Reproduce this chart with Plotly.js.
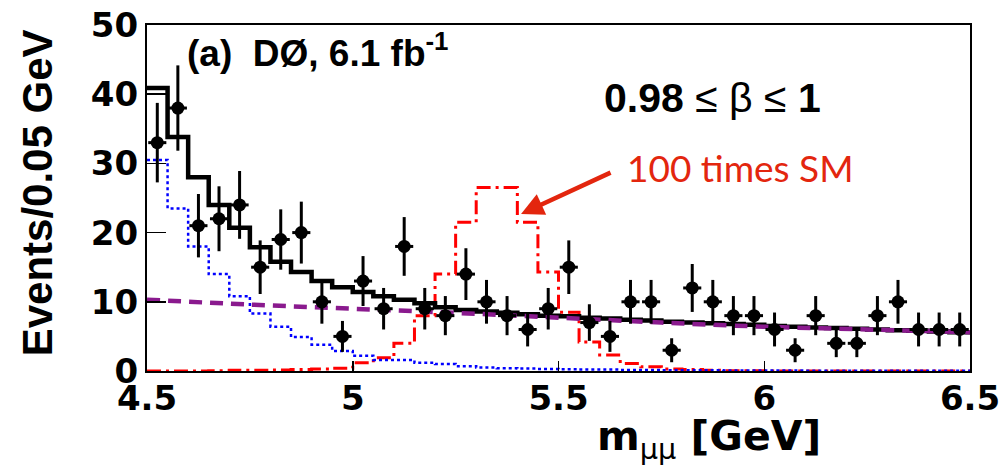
<!DOCTYPE html>
<html>
<head>
<meta charset="utf-8">
<script src="https://cdn.plot.ly/plotly-3.0.1.min.js"></script>
<style>html,body{margin:0;padding:0;background:#fff;}#chart{width:1003px;height:466px;}</style>
</head>
<body>
<div id="chart"></div>
<script>
// bin centres of m_mumu [GeV], bin width 0.05
const binCenters = [4.525,4.575,4.625,4.675,4.725,4.775,4.825,4.875,4.925,4.975,
  5.025,5.075,5.125,5.175,5.225,5.275,5.325,5.375,5.425,5.475,
  5.525,5.575,5.625,5.675,5.725,5.775,5.825,5.875,5.925,5.975,
  6.025,6.075,6.125,6.175,6.225,6.275,6.325,6.375,6.425,6.475];
const binHalfWidth = 0.025;
// observed data
const dataCounts = [33,38,21,22,24,15,19,20,10,5,13,9,18,9,8,14,10,8,6,9,
  15,7,5,10,10,3,12,10,8,8,6,3,8,4,4,8,10,6,6,6];
// total background (black histogram)
const totalBkg = [40.9,33.8,28.0,24.0,20.7,17.9,15.8,14.3,13.0,12.1,
  11.4,10.8,10.3,9.8,9.2,8.8,8.6,8.4,8.2,8.0,
  7.9,7.7,7.6,7.4,7.3,7.1,7.0,6.9,6.8,6.7,
  6.5,6.4,6.3,6.2,6.1,6.0,5.9,5.8,5.7,5.6];
// blue dotted component
const blueBkg = [30.5,23.5,18.0,14.0,10.8,8.3,6.4,4.9,3.8,2.9,
  2.2,1.6,1.6,1.2,1.0,0.7,0.5,0.4,0.35,0.3,
  0.25,0.2,0.2,0.15,0.15,0.1,0.1,0.1,0.08,0.08,
  0.06,0.06,0.05,0.05,0.04,0.04,0.03,0.03,0.03,0.03];
// signal, 100 times SM (red dash-dot)
const signal100 = [0,0,0,0.05,0.1,0.1,0.15,0.2,0.3,0.4,
  1.2,1.9,4.0,8.0,14.0,21.5,26.5,26.5,21.5,14.3,
  8.5,4.2,2.3,1.1,0.6,0.3,0.2,0.1,0.05,0.03,
  0,0,0,0,0,0,0,0,0,0];
// purple dashed smooth background
const purpleX = [4.5,4.75,5.0,5.25,5.5,5.75,6.0,6.25,6.5];
const purpleY = [10.3,9.6,9.0,8.4,7.7,7.0,6.4,6.0,5.6];

function stepX(){ const xs = binCenters.map(c=>c-binHalfWidth); xs.push(binCenters[binCenters.length-1]+binHalfWidth); return xs; }
function stepY(v){ const ys = v.slice(); ys.push(v[v.length-1]); return ys; }

const traces = [
  {x: stepX(), y: stepY(signal100), mode:'lines', line:{shape:'hv', color:'#ff0000', width:3, dash:'14px,5px,3px,5px'}, hoverinfo:'skip'},
  {x: stepX(), y: stepY(blueBkg), mode:'lines', line:{shape:'hv', color:'#0000ff', width:2.5, dash:'dot'}, hoverinfo:'skip'},
  {x: stepX(), y: stepY(totalBkg), mode:'lines', line:{shape:'hv', color:'#000000', width:4.5}, hoverinfo:'skip'},
  {x: purpleX, y: purpleY, mode:'lines', line:{shape:'spline', color:'#8a1a8e', width:4.5, dash:'13px,8px'}, hoverinfo:'skip'},
  {x: binCenters, y: dataCounts, mode:'markers', marker:{color:'#000', size:13, symbol:'circle'},
   error_y:{type:'sqrt', color:'#000', thickness:3, width:0},
   error_x:{type:'constant', value:0.022, color:'#000', thickness:3, width:0}}
];

const layout = {
  width:1003, height:466,
  margin:{l:147, r:33, t:25, b:95},
  paper_bgcolor:'#fff', plot_bgcolor:'#fff',
  showlegend:false,
  font:{family:'DejaVu Sans', color:'#000'},
  xaxis:{range:[4.5,6.5], tickvals:[4.5,5,5.5,6,6.5], ticktext:['4.5','5','5.5','6','6.5'],
    ticks:'inside', ticklen:10, tickwidth:1.5, tickcolor:'#000', ticklabelstandoff:-4,
    showline:true, mirror:true, linewidth:2, linecolor:'#000', showgrid:false, zeroline:false,
    tickfont:{family:'DejaVu Sans', size:34, weight:'bold', color:'#000'}},
  yaxis:{range:[0,50], tickvals:[0,10,20,30,40,50],
    ticks:'inside', ticklen:19, tickwidth:1.5, tickcolor:'#000',
    showline:true, mirror:true, linewidth:2, linecolor:'#000', showgrid:false, zeroline:false,
    tickfont:{family:'DejaVu Sans', size:34, weight:'bold', color:'#000'}},
  annotations:[
    {text:'<b>Events/0.05 GeV</b>', xref:'paper', yref:'paper', x:-0.133, y:0.515, textangle:-90,
     xanchor:'center', yanchor:'middle',
     showarrow:false, font:{family:'Liberation Sans', size:42, color:'#000'}},
    {text:'<b>m</b><sub>μμ</sub><b> [GeV]</b>', xref:'paper', yref:'paper', x:0.683, y:-0.197,
     xanchor:'center', yanchor:'middle',
     showarrow:false, font:{family:'DejaVu Sans', size:41, color:'#000'}},
    {text:'<b>(a)  DØ, 6.1 fb<sup>-1</sup></b>', xref:'paper', yref:'paper', x:0.046, y:0.925, xanchor:'left', yanchor:'middle',
     showarrow:false, font:{family:'Liberation Sans', size:37, color:'#000'}},
    {text:'<b>0.98</b> ≤ β ≤ <b>1</b>', xref:'paper', yref:'paper', x:0.553, y:0.79, xanchor:'left', yanchor:'middle',
     showarrow:false, font:{family:'Liberation Sans', size:41, color:'#000'}},
    {text:'100 times SM', xref:'paper', yref:'paper', x:0.581, y:0.587, xanchor:'left', yanchor:'middle',
     showarrow:false, font:{family:'Lato', size:37, color:'#e3260e'}},
    {text:'', x:5.409, y:22.7, xref:'x', yref:'y', showarrow:true, ax:91, ay:-42,
     arrowcolor:'#e3260e', arrowwidth:4.5, arrowhead:2, arrowsize:1}
  ]
};
Plotly.newPlot('chart', traces, layout, {displayModeBar:false, staticPlot:true});
</script>
</body>
</html>
